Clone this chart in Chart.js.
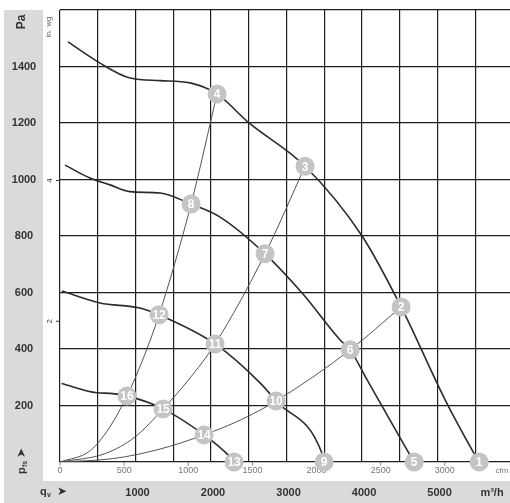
<!DOCTYPE html>
<html>
<head>
<meta charset="utf-8">
<script src="https://cdn.jsdelivr.net/npm/chart.js@4.4.1/dist/chart.umd.min.js"></script>
<style>
  html, body { margin: 0; padding: 0; background: #fff; }
  #wrap { width: 510px; height: 503px; }
</style>
</head>
<body>
<div id="wrap"><canvas id="myChart" width="510" height="503"></canvas></div>
<script>
/* tick labels and grid positions */
let paTicks = [200, 400, 600, 800, 1000, 1200, 1400];
let flowTicks = [1000, 2000, 3000, 4000, 5000];
let cfmTicks = [0, 500, 1000, 1500, 2000, 2500, 3000];
let inwgTicks = [2, 4];
let gridFlow = [0, 500, 1000, 1500, 2000, 2500, 3000, 3500, 4000, 4500, 5000, 5500];
let gridPa = [0, 200, 400, 600, 800, 1000, 1200, 1400, 1600];

/* fan curves: flow in m³/h, pressure in Pa */
let fan1Flow = [106, 530, 928, 1325, 1722, 2080, 2491, 3246, 4001, 4518, 5101, 5472, 5552];
let fan1Pa = [1487, 1412, 1359, 1350, 1342, 1303, 1203, 1047, 800, 549, 220, 36, 0];
let fan2Flow = [66, 398, 662, 928, 1325, 1736, 2120, 2716, 3207, 3710, 3843, 4068, 4611, 4691];
let fan2Pa = [1051, 1005, 981, 957, 952, 913, 867, 737, 598, 432, 397, 291, 36, 0];
let fan3Flow = [26, 530, 1060, 1312, 2054, 2650, 2862, 3472, 3498];
let fan3Pa = [605, 563, 545, 521, 418, 280, 216, 29, 0];
let fan4Flow = [20, 490, 663, 888, 1365, 1908, 2226, 2306];
let fan4Pa = [278, 245, 243, 234, 188, 96, 25, 0];

/* system curves from the origin */
let sysAFlow = [0, 400, 650, 888, 1100, 1312, 1736, 2080];
let sysAPa = [0, 40, 120, 234, 365, 521, 913, 1303];
let sysBFlow = [0, 600, 1000, 1365, 1700, 2054, 2716, 3246];
let sysBPa = [0, 30, 90, 188, 290, 418, 737, 1047];
let sysCFlow = [0, 700, 1300, 1908, 2400, 2862, 3843, 4518];
let sysCPa = [0, 12, 44, 96, 150, 216, 397, 549];

/* numbered operating points */
let pointNums = [1, 2, 3, 4, 5, 6, 7, 8, 9, 10, 11, 12, 13, 14, 15, 16];
let pointFlow = [5552, 4518, 3246, 2080, 4691, 3843, 2716, 1736, 3498, 2862, 2054, 1312, 2306, 1908, 1365, 888];
let pointPa = [0, 549, 1047, 1303, 0, 397, 737, 913, 0, 216, 418, 521, 0, 96, 188, 234];

function toXY(xs, ys) {
    let out = [];
    for (let i = 0; i < xs.length; i++) out.push({ x: xs[i], y: ys[i] });
    return out;
}

function fanSet(xs, ys) {
    return {
        data: toXY(xs, ys), showLine: true, pointRadius: 0,
        borderColor: '#2b2b2b', borderWidth: 1.6, fill: false,
        cubicInterpolationMode: 'monotone'
    };
}

function sysSet(xs, ys) {
    return {
        data: toXY(xs, ys), showLine: true, pointRadius: 0,
        borderColor: '#555', borderWidth: 1, fill: false,
        cubicInterpolationMode: 'monotone'
    };
}

const CFM = 1.699;   // m³/h per cfm
const INWG = 249.09; // Pa per in. wg
const PANEL = '#dadada';

/* background panels, labels and numbers on the circles */
let decor = {
    id: 'decor',
    beforeDraw(chart) {
        let c = chart.ctx;
        c.save();
        c.fillStyle = '#fff';
        c.fillRect(0, 0, chart.width, chart.height);
        c.fillStyle = PANEL;
        c.fillRect(4, 10, 39, 493);
        c.fillRect(4, 481, 506, 22);
        c.restore();
    },
    beforeDatasetsDraw(chart) {
        let c = chart.ctx, x = chart.scales.x, y = chart.scales.y;
        let base = y.getPixelForValue(0);
        c.save();
        c.font = '9px "Liberation Sans", Arial, sans-serif';
        c.textAlign = 'center';
        c.textBaseline = 'middle';
        c.lineJoin = 'round';
        for (let v of cfmTicks) {
            let px = x.getPixelForValue(v * CFM);
            c.strokeStyle = '#888';
            c.lineWidth = 1;
            c.beginPath();
            c.moveTo(px, base);
            c.lineTo(px, base + 4);
            c.stroke();
            c.strokeStyle = '#fff';
            c.lineWidth = 3;
            c.strokeText(String(v), px, base + 9);
            c.fillStyle = '#777';
            c.fillText(String(v), px, base + 9);
        }
        c.font = '8px "Liberation Sans", Arial, sans-serif';
        c.fillStyle = '#777';
        c.fillText('cfm', 502, base + 9);
        c.restore();
    },
    afterDatasetsDraw(chart) {
        let c = chart.ctx;
        let meta = chart.getDatasetMeta(0);
        c.save();
        c.font = 'bold 12px "Liberation Sans", Arial, sans-serif';
        c.fillStyle = '#fff';
        c.textAlign = 'center';
        c.textBaseline = 'middle';
        meta.data.forEach((el, i) => {
            c.fillText(String(pointNums[i]), el.x, el.y + 1);
        });
        c.restore();
    },
    afterDraw(chart) {
        let c = chart.ctx, x = chart.scales.x, y = chart.scales.y;
        let left = chart.chartArea.left;
        c.save();
        c.fillStyle = '#333';
        c.font = 'bold 11px "Liberation Sans", Arial, sans-serif';
        c.textAlign = 'center';
        c.textBaseline = 'middle';
        for (let v of paTicks) c.fillText(String(v), 24, y.getPixelForValue(v));
        for (let v of flowTicks) c.fillText(String(v), x.getPixelForValue(v) + 2, 493);
        c.fillText('m³/h', 492, 493);

        /* in. wg ticks */
        c.strokeStyle = '#333';
        c.lineWidth = 1;
        c.font = '8px "Liberation Sans", Arial, sans-serif';
        for (let v of inwgTicks) {
            let py = y.getPixelForValue(v * INWG);
            c.beginPath();
            c.moveTo(left - 4, py);
            c.lineTo(left, py);
            c.stroke();
            c.save();
            c.translate(50, py);
            c.rotate(-Math.PI / 2);
            c.fillText(String(v), 0, 0);
            c.restore();
        }

        /* axis titles */
        c.save();
        c.translate(22, 22);
        c.rotate(-Math.PI / 2);
        c.font = 'bold 12px "Liberation Sans", Arial, sans-serif';
        c.fillText('Pa', 0, 0);
        c.restore();

        c.save();
        c.translate(49, 27);
        c.rotate(-Math.PI / 2);
        c.fillStyle = '#666';
        c.font = '8px "Liberation Sans", Arial, sans-serif';
        c.fillText('in. wg', 0, 0);
        c.restore();

        c.save();
        c.translate(22, 474);
        c.rotate(-Math.PI / 2);
        c.textAlign = 'left';
        c.font = 'bold 11px "Liberation Sans", Arial, sans-serif';
        c.fillText('p', 0, 0);
        c.font = 'bold 7px "Liberation Sans", Arial, sans-serif';
        c.fillText('fs', 7, 3);
        c.font = '12px "DejaVu Sans", sans-serif';
        c.fillText('➤', 16, 0);
        c.restore();

        c.textAlign = 'left';
        c.font = 'bold 11px "Liberation Sans", Arial, sans-serif';
        c.fillText('q', 40, 492);
        c.font = 'bold 7px "Liberation Sans", Arial, sans-serif';
        c.fillText('v', 47, 495);
        c.font = '12px "DejaVu Sans", sans-serif';
        c.fillText('➤', 57, 492);
        c.restore();
    }
};

let config = {
    type: 'scatter',
    data: {
        datasets: [
            {
                data: toXY(pointFlow, pointPa), pointRadius: 9.5, pointHoverRadius: 9.5,
                backgroundColor: '#c4c4c4', borderWidth: 0, showLine: false, clip: false
            },
            fanSet(fan1Flow, fan1Pa),
            fanSet(fan2Flow, fan2Pa),
            fanSet(fan3Flow, fan3Pa),
            fanSet(fan4Flow, fan4Pa),
            sysSet(sysAFlow, sysAPa),
            sysSet(sysBFlow, sysBPa),
            sysSet(sysCFlow, sysCPa)
        ]
    },
    options: {
        responsive: false,
        animation: false,
        devicePixelRatio: 1,
        layout: { autoPadding: false, padding: { left: 60, top: 10, right: 0, bottom: 41 } },
        plugins: { legend: { display: false }, tooltip: { enabled: false } },
        scales: {
            x: {
                type: 'linear', min: 0, max: 5960,
                ticks: { display: false },
                grid: { color: '#1e1e1e', lineWidth: 1.2, drawTicks: false },
                border: { display: false },
                afterBuildTicks: (axis) => {
                    axis.ticks = gridFlow.map(v => ({ value: v }));
                }
            },
            y: {
                type: 'linear', min: 0, max: 1600,
                ticks: { display: false },
                grid: { color: '#1e1e1e', lineWidth: 1.2, drawTicks: false },
                border: { display: false },
                afterBuildTicks: (axis) => {
                    axis.ticks = gridPa.map(v => ({ value: v }));
                }
            }
        }
    },
    plugins: [decor]
};

let myChart = new Chart(document.getElementById('myChart'), config);
</script>
</body>
</html>
